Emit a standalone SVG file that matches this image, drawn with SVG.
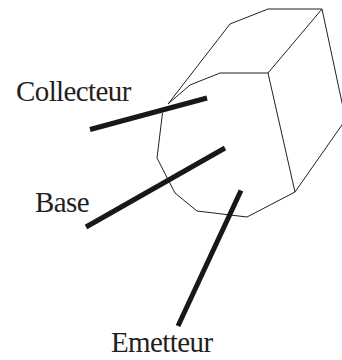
<svg xmlns="http://www.w3.org/2000/svg" width="342" height="360" viewBox="0 0 342 360">
<style>
.edge{fill:none;stroke:#231f20;stroke-width:1;stroke-linejoin:miter}
.lead{fill:none;stroke:#1a1718;stroke-width:5}
text{font-family:"Liberation Serif","Times New Roman",serif;font-size:29px;fill:#231f20;letter-spacing:-0.6px}
</style>
<rect width="342" height="360" fill="#fff"/>
<g id="body">
<path class="edge" d="M168 104L230 24L268 9L322 9L344 112"/>
<path class="edge" d="M168 104L190 85L220 73L268 73L322 9"/>
<path class="edge" d="M268 73L295 192"/>
<path class="edge" d="M162.500 113L157 158L175 193L197 211L247 217L295 192L344 122"/>
</g>
<g id="connectors">
<path class="lead" d="M90 129.500L207 98"/>
<path class="lead" d="M86 227L225 148"/>
<path class="lead" d="M241 190.500L178 326"/>
</g>
<g id="collecteur"><text x="16" y="101">Collecteur</text></g>
<g id="base"><text x="35" y="212">Base</text></g>
<g id="emetteur"><text x="111" y="352">Emetteur</text></g>
</svg>
